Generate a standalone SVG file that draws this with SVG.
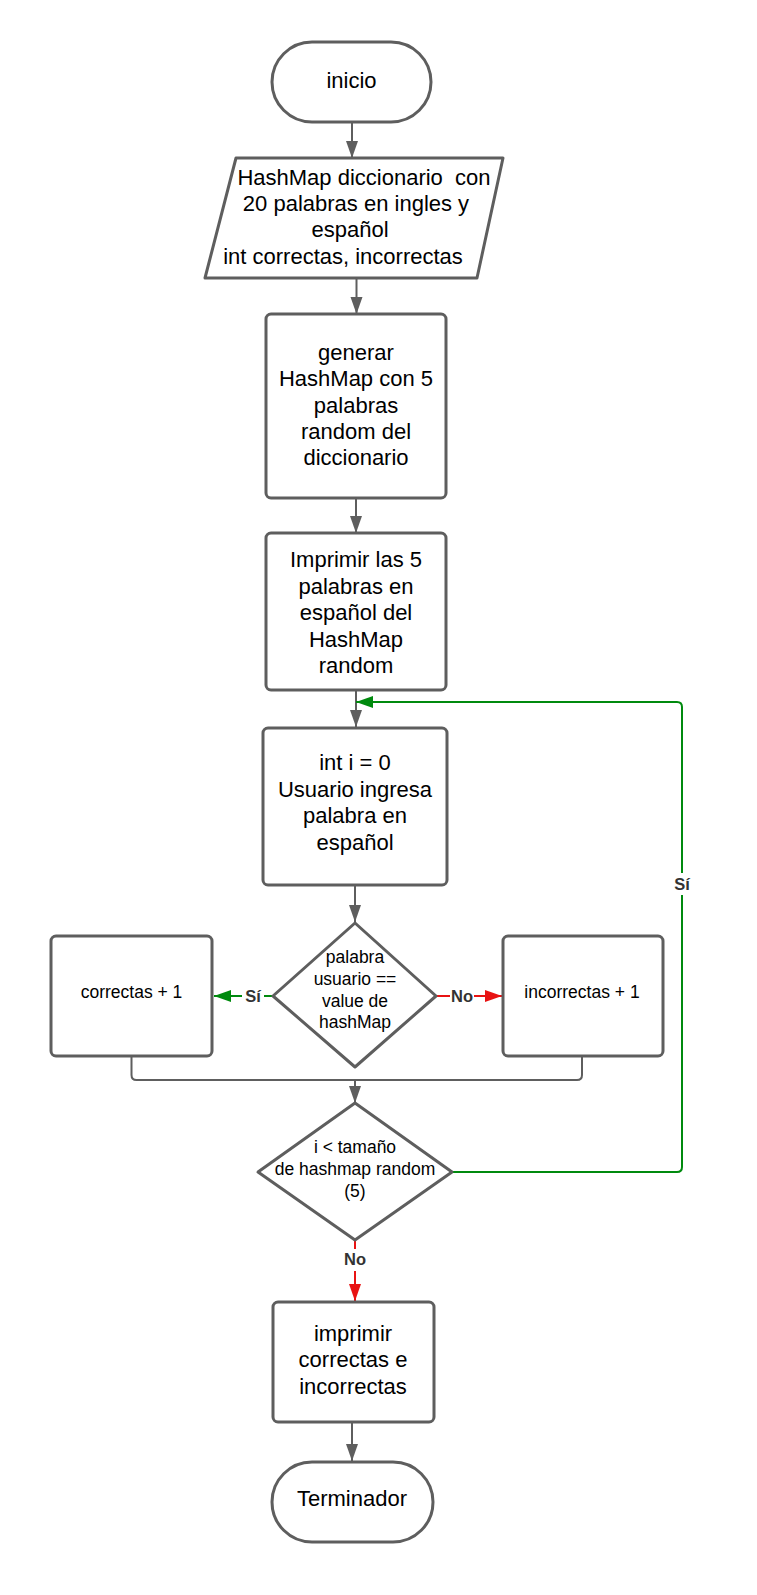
<svg xmlns="http://www.w3.org/2000/svg" width="757" height="1595" viewBox="0 0 757 1595">
<defs>
<marker id="ag" markerUnits="userSpaceOnUse" markerWidth="18" markerHeight="14" refX="17" refY="6.5" orient="auto"><path d="M0,0.5 L17,6.5 L0,12.5 Z" fill="#5e5e5e"/></marker>
<marker id="agr" markerUnits="userSpaceOnUse" markerWidth="18" markerHeight="14" refX="17" refY="6.5" orient="auto"><path d="M0,0.5 L17,6.5 L0,12.5 Z" fill="#008a0e"/></marker>
<marker id="ar" markerUnits="userSpaceOnUse" markerWidth="18" markerHeight="14" refX="17" refY="6.5" orient="auto"><path d="M0,0.5 L17,6.5 L0,12.5 Z" fill="#e81313"/></marker>
</defs>
<style>
.n{fill:#fff;stroke:#5e5e5e;stroke-width:3;stroke-linejoin:round}
.t{font-family:"Liberation Sans",Arial,sans-serif;font-size:22px;fill:#000;text-anchor:middle}
.s{font-family:"Liberation Sans",Arial,sans-serif;font-size:17.5px;fill:#000;text-anchor:middle}
.c{fill:none;stroke:#5e5e5e;stroke-width:2;stroke-linejoin:round}
.g{fill:none;stroke:#008a0e;stroke-width:2;stroke-linejoin:round}
.r{fill:none;stroke:#e81313;stroke-width:2}
.l{font-family:"Liberation Sans",Arial,sans-serif;font-size:16.5px;font-weight:bold;fill:#333;text-anchor:middle}
</style>
<rect width="757" height="1595" fill="#fff"/>
<g id="connectors">
<path class="c" d="M352,122 V158" marker-end="url(#ag)"/>
<path class="c" d="M356.5,278 V314" marker-end="url(#ag)"/>
<path class="c" d="M356,498 V533" marker-end="url(#ag)"/>
<path class="c" d="M356,690 V727" marker-end="url(#ag)"/>
<path class="c" d="M355,885 V922" marker-end="url(#ag)"/>
<path class="g" d="M273,996 H214" marker-end="url(#agr)"/>
<path class="r" d="M436,996 H502" marker-end="url(#ar)"/>
<path class="c" d="M131.5,1056 V1075 Q131.5,1080 136.5,1080 H577 Q582,1080 582,1075 V1056"/>
<path class="c" d="M355,1080 V1103" marker-end="url(#ag)"/>
<path class="g" d="M452,1172 H677 Q682,1172 682,1167 V707 Q682,702 677,702 H356" marker-end="url(#agr)"/>
<path class="r" d="M355,1240 V1301" marker-end="url(#ar)"/>
<path class="c" d="M352,1422 V1461" marker-end="url(#ag)"/>
<rect x="672" y="873" width="20" height="22" fill="#fff"/>
<text class="l" x="682" y="890">Sí</text>
<rect x="242" y="986" width="22" height="20" fill="#fff"/>
<text class="l" x="253" y="1002">Sí</text>
<rect x="450" y="986" width="24" height="20" fill="#fff"/>
<text class="l" x="462" y="1002">No</text>
<rect x="343" y="1249" width="24" height="22" fill="#fff"/>
<text class="l" x="355" y="1265">No</text>
</g>
<g id="inicio">
<rect class="n" x="272" y="42" width="159" height="80" rx="40"/>
<text class="t" x="351.5" y="88">inicio</text>
</g>
<g id="datos">
<polygon class="n" points="236,158 503,158 477,278 205,278"/>
<text class="t" xml:space="preserve" x="364" y="184.5">HashMap diccionario  con</text>
<text class="t" x="356" y="210.5">20 palabras en ingles y</text>
<text class="t" x="350" y="237">español</text>
<text class="t" x="343" y="263.5">int correctas, incorrectas</text>
</g>
<g id="generar">
<rect class="n" x="266" y="314" width="180" height="184" rx="5"/>
<text class="t" x="356" y="359.5">generar</text>
<text class="t" x="356" y="386">HashMap con 5</text>
<text class="t" x="356" y="412.5">palabras</text>
<text class="t" x="356" y="439">random del</text>
<text class="t" x="356" y="465">diccionario</text>
</g>
<g id="imprimir5">
<rect class="n" x="266" y="533" width="180" height="157" rx="5"/>
<text class="t" x="356" y="567">Imprimir las 5</text>
<text class="t" x="356" y="593.5">palabras en</text>
<text class="t" x="356" y="620">español del</text>
<text class="t" x="356" y="646.5">HashMap</text>
<text class="t" x="356" y="672.5">random</text>
</g>
<g id="ingresa">
<rect class="n" x="263" y="728" width="184" height="157" rx="5"/>
<text class="t" x="355" y="770">int i = 0</text>
<text class="t" x="355" y="796.5">Usuario ingresa</text>
<text class="t" x="355" y="823">palabra en</text>
<text class="t" x="355" y="849.5">español</text>
</g>
<g id="decision1">
<polygon class="n" points="355,923 436,996 355,1067 273,996"/>
<text class="s" x="355" y="963">palabra</text>
<text class="s" x="355" y="985">usuario ==</text>
<text class="s" x="355" y="1006.5">value de</text>
<text class="s" x="355" y="1028">hashMap</text>
</g>
<g id="correctas">
<rect class="n" x="51" y="936" width="161" height="120" rx="5"/>
<text class="s" x="131.5" y="998">correctas + 1</text>
</g>
<g id="incorrectas">
<rect class="n" x="503" y="936" width="160" height="120" rx="5"/>
<text class="s" x="582" y="998">incorrectas + 1</text>
</g>
<g id="decision2">
<polygon class="n" points="355,1103 452,1172 355,1240 258,1172"/>
<text class="s" x="355" y="1153">i &lt; tamaño</text>
<text class="s" x="355" y="1175">de hashmap random</text>
<text class="s" x="355" y="1197">(5)</text>
</g>
<g id="imprimirfinal">
<rect class="n" x="273" y="1302" width="161" height="120" rx="5"/>
<text class="t" x="353" y="1341">imprimir</text>
<text class="t" x="353" y="1367">correctas e</text>
<text class="t" x="353" y="1393.5">incorrectas</text>
</g>
<g id="terminador">
<rect class="n" x="272" y="1462" width="161" height="80" rx="40"/>
<text class="t" x="352" y="1506">Terminador</text>
</g>
</svg>
